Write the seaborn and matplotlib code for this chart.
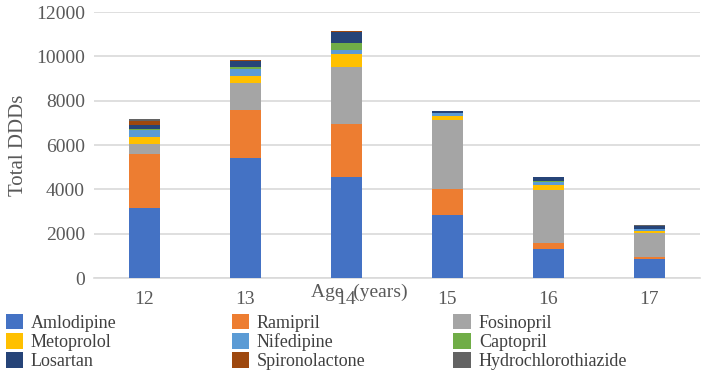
import numpy as np
import pandas as pd
import matplotlib
matplotlib.use("Agg")
import matplotlib.pyplot as plt
from matplotlib.patches import Patch
import seaborn as sns

ages = ["12", "13", "14", "15", "16", "17"]
drugs = ["Amlodipine", "Ramipril", "Fosinopril", "Metoprolol", "Nifedipine",
         "Captopril", "Losartan", "Spironolactone", "Hydrochlorothiazide"]
amlodipine = [3170, 5420, 4550, 2840, 1320, 840]
ramipril = [2430, 2160, 2400, 1170, 270, 120]
fosinopril = [465, 1220, 2570, 3120, 2390, 1050]
metoprolol = [300, 330, 600, 200, 220, 120]
nifedipine = [300, 300, 165, 120, 140, 60]
captopril = [65, 75, 315, 15, 60, 30]
losartan = [175, 270, 495, 55, 150, 120]
spironolactone = [185, 45, 45, 10, 20, 20]
hydrochlorothiazide = [70, 30, 30, 10, 10, 10]
colors = ["#4472C4", "#ED7D31", "#A5A5A5", "#FFC000", "#5B9BD5",
          "#70AD47", "#264478", "#9E480E", "#636363"]

series = [amlodipine, ramipril, fosinopril, metoprolol, nifedipine,
          captopril, losartan, spironolactone, hydrochlorothiazide]

sns.set_theme(style="white")
plt.rcParams["font.family"] = ["Liberation Serif", "DejaVu Serif"]

fig = plt.figure(figsize=(7.02, 3.91), dpi=100)
ax = fig.add_axes([0.134, 0.289, 0.863, 0.68])

cum = np.cumsum(np.array(series, dtype=float), axis=0)
# draw from top layer downward so lower layers cover the upper cumulative bars
for i in range(len(drugs) - 1, -1, -1):
    df = pd.DataFrame({"Age": ages, "value": cum[i]})
    sns.barplot(data=df, x="Age", y="value", color=colors[i], width=0.315,
                saturation=1, ax=ax, zorder=3, linewidth=0)

ax.set_ylim(0, 12000)
ax.set_yticks(range(0, 12001, 2000))
ax.yaxis.grid(True, color="#D9D9D9", linewidth=1.2, zorder=0)
ax.set_axisbelow(True)
for s in ["top", "right", "left"]:
    ax.spines[s].set_visible(False)
ax.spines["bottom"].set_color("#D9D9D9")
ax.spines["bottom"].set_linewidth(1.2)
ax.tick_params(axis="both", length=0, labelsize=14, colors="#595959")
ax.tick_params(axis="y", pad=6.5)
ax.tick_params(axis="x", pad=9)
ax.set_ylabel("Total DDDs", fontsize=15, color="#595959", labelpad=6)
ax.set_xlabel("Age  (years)", fontsize=14, color="#595959")
ax.xaxis.set_label_coords(0.437, -0.022)

col_x = [0.008, 0.330, 0.646]
for c in range(3):
    idx = [c, c + 3, c + 6]
    handles = [Patch(facecolor=colors[i], edgecolor="none", label=drugs[i]) for i in idx]
    fig.legend(handles=handles, ncol=1, loc="upper left", bbox_to_anchor=(col_x[c], 0.198),
               frameon=False, fontsize=13, handlelength=0.95, handleheight=0.95,
               handletextpad=0.45, labelspacing=0.08, borderpad=0, borderaxespad=0,
               labelcolor="#404040")

fig.savefig("out.png", dpi=100)
